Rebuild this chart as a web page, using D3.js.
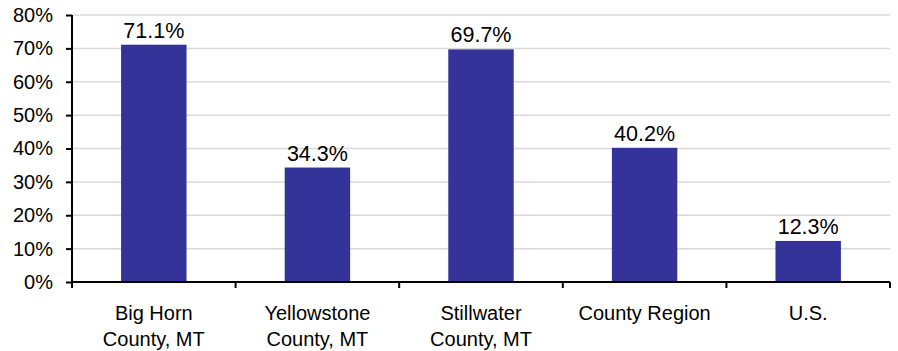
<!DOCTYPE html>
<html><head><meta charset="utf-8">
<script src="https://cdn.jsdelivr.net/npm/d3@7"></script>
<style>body{margin:0;background:#fff}svg{display:block}text{font-family:"Liberation Sans",Arial,sans-serif;fill:#000}</style>
</head><body>
<svg id="c" width="898" height="351"></svg>
<script>
const categories = [["Big Horn","County, MT"],["Yellowstone","County, MT"],["Stillwater","County, MT"],["County Region"],["U.S."]];
const values = [71.1, 34.3, 69.7, 40.2, 12.3];
const yTicks = [0,10,20,30,40,50,60,70,80];

(function(){
const svg = d3.select("#c");
const mL = 72, mR = 890, mT = 15, mB = 282;
const x = d3.scaleBand().domain(d3.range(categories.length)).range([mL, mR]).padding(0);
const y = d3.scaleLinear().domain([0, 80]).range([mB, mT]);

// grid
svg.append("g").selectAll("line").data(yTicks.filter(d=>d>0)).join("line")
  .attr("x1", mL).attr("x2", mR).attr("y1", d=>y(d)).attr("y2", d=>y(d))
  .attr("stroke", "#d9d9d9").attr("stroke-width", 1.5);

// bars
const bw = x.bandwidth()*0.4;
svg.append("g").selectAll("rect").data(values).join("rect")
  .attr("x", (d,i)=>x(i)+x.bandwidth()/2-bw/2).attr("width", bw)
  .attr("y", d=>y(d)).attr("height", d=>y(0)-y(d)).attr("fill", "#333399");

// value labels
svg.append("g").selectAll("text").data(values).join("text")
  .attr("x", (d,i)=>x(i)+x.bandwidth()/2).attr("y", d=>y(d)-7)
  .attr("text-anchor","middle").attr("font-size", 21.5).text(d=>d.toFixed(1)+"%");

// y axis
const ya = svg.append("g").attr("transform", `translate(${mL},0)`)
  .call(d3.axisLeft(y).tickValues(yTicks).tickSize(6).tickPadding(13).tickFormat(d=>d+"%"));
ya.select(".domain").attr("stroke","#000").attr("stroke-width",2).attr("d",`M0,${mT}V${mB}`);
ya.selectAll(".tick line").attr("stroke","#000").attr("stroke-width",2);
ya.selectAll(".tick text").attr("font-size",20).attr("font-family","Liberation Sans, Arial, sans-serif").attr("fill","#000");

// x axis
const xb = svg.append("g").attr("transform", `translate(0,${mB})`);
xb.append("line").attr("x1", mL-1).attr("x2", mR).attr("stroke","#000").attr("stroke-width",2);
const bounds = d3.range(categories.length+1).map(i=> i<categories.length ? x(i) : mR);
xb.selectAll("line.t").data(bounds).join("line").attr("class","t")
  .attr("x1", d=>d).attr("x2", d=>d).attr("y1",0).attr("y2",6).attr("stroke","#000").attr("stroke-width",2);

const cl = svg.append("g").selectAll("text").data(categories).join("text")
  .attr("text-anchor","middle").attr("font-size",20)
  .attr("x",(d,i)=>x(i)+x.bandwidth()/2).attr("y",320);
cl.selectAll("tspan").data(d=>d).join("tspan")
  .attr("x", function(){return this.parentNode.getAttribute("x");})
  .attr("dy",(d,j)=>j===0?0:25.5).text(d=>d);
})();
</script>
</body></html>
